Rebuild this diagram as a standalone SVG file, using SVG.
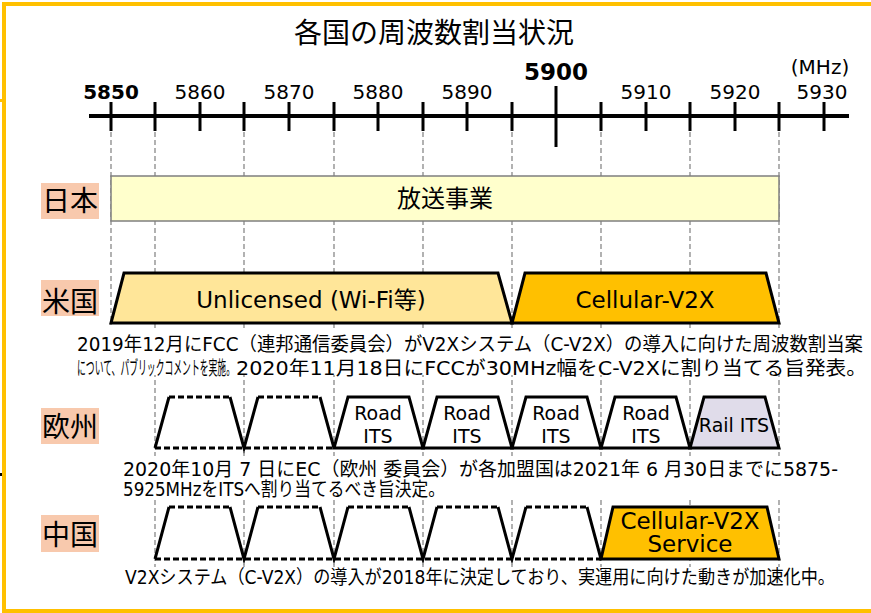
<svg xmlns="http://www.w3.org/2000/svg" width="871" height="613" viewBox="0 0 871 613">
<style>
.bg{fill:#ffffff}
.frame{stroke:#FFC000;stroke-width:4;fill:none}
.axis{stroke:#000;stroke-width:4}
.tick{stroke:#000;stroke-width:3}
.guide{stroke:#7F7F7F;stroke-width:1.2;stroke-dasharray:5 3;fill:none}
.num{font-family:"DejaVu Sans",sans-serif;font-size:20px;fill:#000;text-anchor:middle}
.numb{font-family:"DejaVu Sans",sans-serif;font-weight:bold;fill:#000;text-anchor:middle}
.title{font-family:"Noto Sans CJK JP",sans-serif;font-size:28px;fill:#000;text-anchor:middle}
.lab{fill:#F8C9AD}
.labt{font-family:"Noto Sans CJK JP",sans-serif;font-size:28px;fill:#000;text-anchor:middle}
.band{stroke:#000;stroke-width:3;stroke-linejoin:miter}
.dashedge{stroke:#000;stroke-width:3;stroke-dasharray:6 3;fill:none}
.side{stroke:#000;stroke-width:3;fill:none}
.bt{font-family:"DejaVu Sans","Noto Sans CJK JP",sans-serif;font-size:23px;fill:#000;text-anchor:middle}
.st{font-family:"DejaVu Sans",sans-serif;font-size:19px;fill:#000;text-anchor:middle}
.note{font-family:"DejaVu Sans","Noto Sans CJK JP",sans-serif;font-size:19px;fill:#000}
</style>
<rect class="bg" x="0" y="0" width="871" height="613"/>

<g id="frame">
<path class="frame" d="M871,4 H4 V611 H871"/>
<rect x="0" y="99" width="2" height="3" fill="#FFC000"/>
<rect x="0" y="473" width="2" height="3" fill="#000"/>
</g>

<g id="title"><text class="title" x="434" y="43">各国の周波数割当状況</text></g>

<g id="axis">
<line class="axis" x1="89" y1="116" x2="849" y2="116"/>
<g class="tick">
<line x1="111" y1="102" x2="111" y2="131"/>
<line x1="155" y1="102" x2="155" y2="131"/>
<line x1="200" y1="102" x2="200" y2="131"/>
<line x1="244" y1="102" x2="244" y2="131"/>
<line x1="289" y1="102" x2="289" y2="131"/>
<line x1="334" y1="102" x2="334" y2="131"/>
<line x1="378" y1="102" x2="378" y2="131"/>
<line x1="423" y1="102" x2="423" y2="131"/>
<line x1="467" y1="102" x2="467" y2="131"/>
<line x1="512" y1="102" x2="512" y2="131"/>
<line x1="556" y1="86" x2="556" y2="147"/>
<line x1="601" y1="102" x2="601" y2="131"/>
<line x1="646" y1="102" x2="646" y2="131"/>
<line x1="690" y1="102" x2="690" y2="131"/>
<line x1="735" y1="102" x2="735" y2="131"/>
<line x1="779" y1="102" x2="779" y2="131"/>
<line x1="824" y1="102" x2="824" y2="131"/>
</g>
<text class="numb" x="111" y="99" style="font-size:20px">5850</text>
<text class="num" x="200" y="99">5860</text>
<text class="num" x="289" y="99">5870</text>
<text class="num" x="378" y="99">5880</text>
<text class="num" x="467" y="99">5890</text>
<text class="numb" x="556" y="80" style="font-size:23px">5900</text>
<text class="num" x="646" y="99">5910</text>
<text class="num" x="735" y="99">5920</text>
<text class="num" x="822" y="99">5930</text>
<text class="num" x="820" y="74">(MHz)</text>
</g>

<g id="connectors">
<line class="guide" x1="111" y1="132" x2="111" y2="325"/>
<line class="guide" x1="155" y1="132" x2="155" y2="567"/>
<line class="guide" x1="244" y1="132" x2="244" y2="567"/>
<line class="guide" x1="334" y1="132" x2="334" y2="567"/>
<line class="guide" x1="423" y1="132" x2="423" y2="567"/>
<line class="guide" x1="512" y1="132" x2="512" y2="567"/>
<line class="guide" x1="601" y1="132" x2="601" y2="567"/>
<line class="guide" x1="690" y1="132" x2="690" y2="567"/>
<line class="guide" x1="779" y1="132" x2="779" y2="567"/>
<rect class="bg" x="70" y="328" width="801" height="47"/>
<rect class="bg" x="110" y="456" width="761" height="44"/>
</g>

<g id="japan">
<rect class="lab" x="41" y="183" width="58" height="36"/>
<text class="labt" x="70" y="211">日本</text>
<rect x="111" y="176" width="668" height="45" fill="#FFFFCC" stroke="#7F7F7F" stroke-width="1.5"/>
<text class="labt" x="445" y="207" style="font-size:24px">放送事業</text>
</g>

<g id="usa">
<rect class="lab" x="41" y="280" width="58" height="36"/>
<text class="labt" x="70" y="312">米国</text>
<g id="us-unlicensed">
<polygon class="band" points="111,323 124,273 498,273 512,323" fill="#FFE699"/>
<text class="bt" x="311" y="308">Unlicensed (Wi-Fi等)</text>
</g>
<g id="us-cv2x">
<polygon class="band" points="512,323 525,273 766,273 779,323" fill="#FFC000"/>
<text class="bt" x="645" y="308">Cellular-V2X</text>
</g>
<text class="note" x="77" y="351" textLength="786" lengthAdjust="spacingAndGlyphs">2019年12月にFCC（連邦通信委員会）がV2Xシステム（C-V2X）の導入に向けた周波数割当案</text>
<text class="note" x="77" y="375" textLength="158" lengthAdjust="spacingAndGlyphs">について、パブリックコメントを実施。</text>
<text class="note" x="236" y="375" textLength="631" lengthAdjust="spacingAndGlyphs">2020年11月18日にFCCが30MHz幅をC-V2Xに割り当てる旨発表。</text>
</g>

<g id="europe">
<rect class="lab" x="41" y="408" width="58" height="36"/>
<text class="labt" x="70" y="437">欧州</text>
<g id="eu-unused">
<path class="dashedge" d="M169,397 H230 M258,397 H320 M155,448 H334"/>
<path class="side" d="M155,448 L169,397 M230,397 L244,448 L258,397 M320,397 L334,448"/>
</g>
<g id="eu-road1">
<polygon class="band" points="334,448 348,397 409,397 423,448" fill="#fff"/>
<text class="st" x="378" y="420">Road</text><text class="st" x="378" y="443">ITS</text>
</g>
<g id="eu-road2">
<polygon class="band" points="423,448 437,397 498,397 512,448" fill="#fff"/>
<text class="st" x="467" y="420">Road</text><text class="st" x="467" y="443">ITS</text>
</g>
<g id="eu-road3">
<polygon class="band" points="512,448 526,397 587,397 601,448" fill="#fff"/>
<text class="st" x="556" y="420">Road</text><text class="st" x="556" y="443">ITS</text>
</g>
<g id="eu-road4">
<polygon class="band" points="601,448 615,397 676,397 690,448" fill="#fff"/>
<text class="st" x="646" y="420">Road</text><text class="st" x="646" y="443">ITS</text>
</g>
<g id="eu-rail">
<polygon class="band" points="690,448 704,397 765,397 779,448" fill="#E0DCEA"/>
<text class="st" x="734" y="432">Rail ITS</text>
</g>
<text class="note" x="123" y="476" textLength="715" lengthAdjust="spacingAndGlyphs">2020年10月 7 日にEC（欧州 委員会）が各加盟国は2021年 6 月30日までに5875-</text>
<text class="note" x="123" y="496" textLength="322" lengthAdjust="spacingAndGlyphs">5925MHzをITSへ割り当てるべき旨決定。</text>
</g>

<g id="china">
<rect class="lab" x="41" y="515" width="58" height="37"/>
<text class="labt" x="70" y="545">中国</text>
<g id="cn-unused">
<path class="dashedge" d="M169,507 H230 M258,507 H320 M348,507 H409 M437,507 H498 M526,507 H587 M155,559 H601"/>
<path class="side" d="M155,559 L169,507 M230,507 L244,559 L258,507 M320,507 L334,559 L348,507 M409,507 L423,559 L437,507 M498,507 L512,559 L526,507 M587,507 L601,559"/>
</g>
<g id="cn-cv2x">
<polygon class="band" points="601,559 613,507 767,507 779,559" fill="#FFC000"/>
<text class="bt" x="690" y="529">Cellular-V2X</text>
<text class="bt" x="690" y="552">Service</text>
</g>
<text class="note" x="125" y="584" textLength="710" lengthAdjust="spacingAndGlyphs">V2Xシステム（C-V2X）の導入が2018年に決定しており、実運用に向けた動きが加速化中。</text>
</g>
</svg>
